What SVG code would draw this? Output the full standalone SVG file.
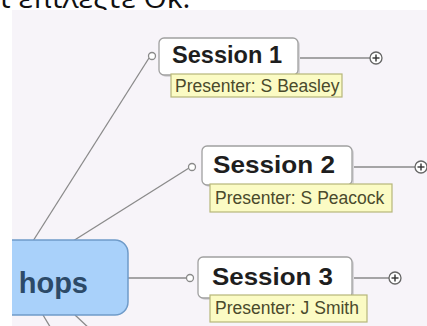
<svg xmlns="http://www.w3.org/2000/svg" width="427" height="326" viewBox="0 0 427 326">
<defs>
<style>
.bg{fill:#f7f4f9}
.top{font-family:"Open Sans","DejaVu Sans",sans-serif;font-size:30px;fill:#111}
.conn{stroke:#8a8a8a;stroke-width:1.3;fill:none}
.dot{fill:#fff;stroke:#8a8a8a;stroke-width:1.3}
.plus{fill:#fff;stroke:#666;stroke-width:1.3}
.pl{stroke:#333;stroke-width:1.4}
.sess{fill:#fff;stroke:#a0a0a0;stroke-width:1.3}
.shadow{fill:#d8d6da}
.stxt{font-family:"Liberation Sans",Arial,sans-serif;font-weight:bold;font-size:24px;fill:#1e1e1e}
.lab{fill:#fbfbc4;stroke:#b6b67a;stroke-width:1.2}
.ltxt{font-family:"Liberation Sans",Arial,sans-serif;font-size:17.5px;fill:#4a4a2c}
.central{fill:#a9d1fa;stroke:#6f9bc9;stroke-width:1.5}
.ctxt{font-family:"Liberation Sans",Arial,sans-serif;font-weight:bold;font-size:29px;fill:#2c4a68}
</style>
<clipPath id="area"><rect x="12" y="10" width="415" height="316"/></clipPath>
</defs>
<rect width="427" height="326" fill="#fff"/>
<text class="top" x="0" y="8">t επιλέξτε Οκ.</text>
<rect class="bg" x="12" y="10" width="415" height="316"/>
<g clip-path="url(#area)">
<g id="connectors">
<line class="conn" x1="33" y1="241" x2="149" y2="58"/>
<line class="conn" x1="73" y1="241" x2="189" y2="168"/>
<line class="conn" x1="128" y1="278" x2="187" y2="278"/>
<line class="conn" x1="43" y1="315" x2="52" y2="330"/>
<line class="conn" x1="75" y1="315" x2="91" y2="330"/>
<line class="conn" x1="298" y1="58" x2="370" y2="58"/>
<line class="conn" x1="352" y1="167" x2="415" y2="167"/>
<line class="conn" x1="352" y1="278" x2="389" y2="278"/>
<circle class="dot" cx="152" cy="56" r="3.5"/>
<circle class="dot" cx="192" cy="167" r="3.5"/>
<circle class="dot" cx="190" cy="278" r="3.5"/>
</g>
<g id="central">
<rect class="central" x="-40" y="240" width="168" height="75" rx="13"/>
<text class="ctxt" x="88" y="293" text-anchor="end">hops</text>
</g>
<g id="session1">
<rect class="shadow" x="161" y="40" width="139" height="37" rx="5"/>
<rect class="sess" x="159" y="38" width="139" height="37" rx="5"/>
<text class="stxt" x="172" y="63" textLength="110" lengthAdjust="spacingAndGlyphs">Session 1</text>
<rect class="lab" x="171" y="74" width="171" height="23"/>
<text class="ltxt" x="175" y="92">Presenter: S Beasley</text>
<circle class="plus" cx="376" cy="58" r="6"/>
<line class="pl" x1="372.5" y1="58" x2="379.5" y2="58"/>
<line class="pl" x1="376" y1="54.5" x2="376" y2="61.5"/>
</g>
<g id="session2">
<rect class="shadow" x="204" y="148" width="150" height="39" rx="5"/>
<rect class="sess" x="202" y="146" width="150" height="39" rx="5"/>
<text class="stxt" x="213" y="173" textLength="122" lengthAdjust="spacingAndGlyphs">Session 2</text>
<rect class="lab" x="210" y="184" width="182" height="28"/>
<text class="ltxt" x="215" y="204">Presenter: S Peacock</text>
<circle class="plus" cx="421" cy="167" r="6"/>
<line class="pl" x1="417.5" y1="167" x2="424.5" y2="167"/>
<line class="pl" x1="421" y1="163.5" x2="421" y2="170.5"/>
</g>
<g id="session3">
<rect class="shadow" x="200" y="259" width="154" height="41" rx="5"/>
<rect class="sess" x="198" y="257" width="154" height="41" rx="5"/>
<text class="stxt" x="212" y="285" textLength="121" lengthAdjust="spacingAndGlyphs">Session 3</text>
<rect class="lab" x="210" y="295" width="157" height="27"/>
<text class="ltxt" x="215" y="314">Presenter: J Smith</text>
<circle class="plus" cx="395" cy="278" r="6"/>
<line class="pl" x1="391.5" y1="278" x2="398.5" y2="278"/>
<line class="pl" x1="395" y1="274.5" x2="395" y2="281.5"/>
</g>
</g>
</svg>
